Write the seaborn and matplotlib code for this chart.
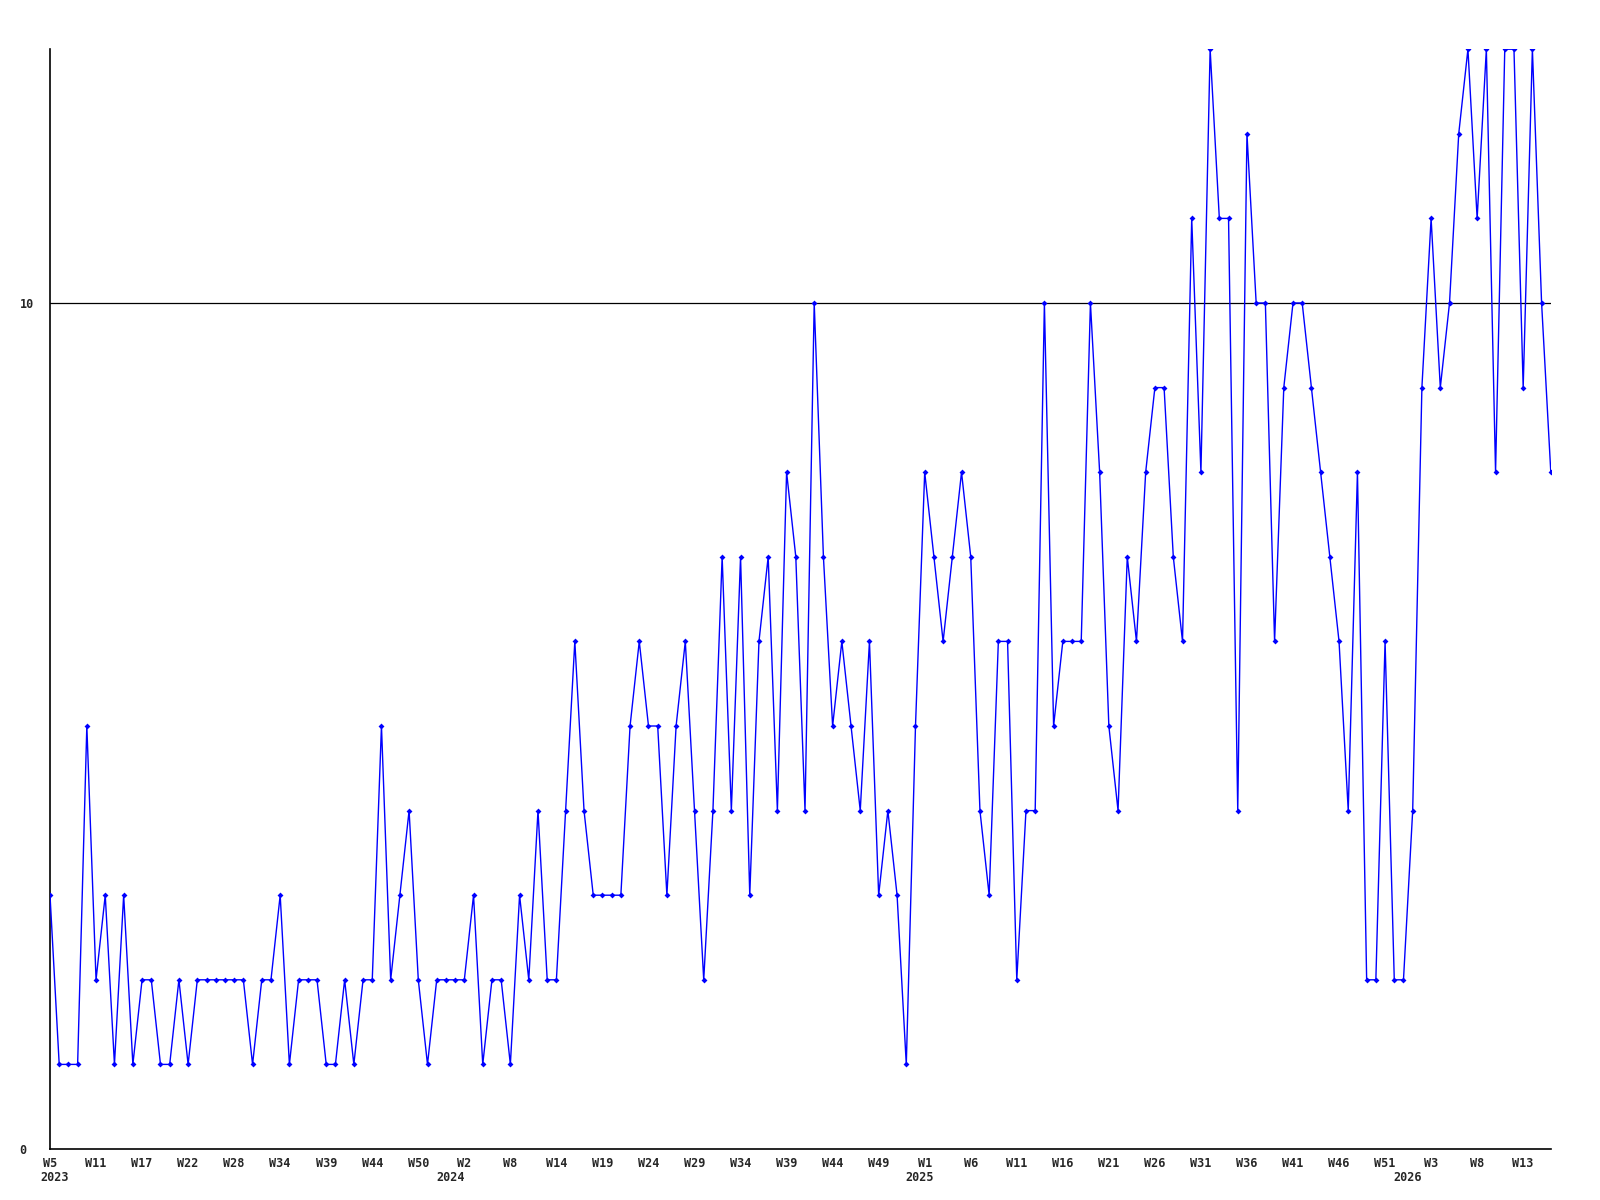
import numpy as np
import pandas as pd
import seaborn as sns
import matplotlib
matplotlib.use('Agg')
import matplotlib.pyplot as plt
import matplotlib.transforms as mtransforms

# weekly counts, one value per data point (W5 2023 onwards)
counts = [
    3, 1, 1, 1, 5, 2, 3, 1, 3, 1,
    2, 2, 1, 1, 2, 1, 2, 2, 2, 2,
    2, 2, 1, 2, 2, 3, 1, 2, 2, 2,
    1, 1, 2, 1, 2, 2, 5, 2, 3, 4,
    2, 1, 2, 2, 2, 2, 3, 1, 2, 2,
    1, 3, 2, 4, 2, 2, 4, 6, 4, 3,
    3, 3, 3, 5, 6, 5, 5, 3, 5, 6,
    4, 2, 4, 7, 4, 7, 3, 6, 7, 4,
    8, 7, 4, 10, 7, 5, 6, 5, 4, 6,
    3, 4, 3, 1, 5, 8, 7, 6, 7, 8,
    7, 4, 3, 6, 6, 2, 4, 4, 10, 5,
    6, 6, 6, 10, 8, 5, 4, 7, 6, 8,
    9, 9, 7, 6, 11, 8, 13, 11, 11, 4,
    12, 10, 10, 6, 9, 10, 10, 9, 8, 7,
    6, 4, 8, 2, 2, 6, 2, 2, 4, 9,
    11, 9, 10, 12, 13, 11, 13, 8, 13, 13,
    9, 13, 10, 8,
]

# a label every 5th point
tick_step = 5
week_labels = ["W5", "W11", "W17", "W22", "W28", "W34", "W39", "W44", "W50",
               "W2", "W8", "W14", "W19", "W24", "W29", "W34", "W39", "W44", "W49",
               "W1", "W6", "W11", "W16", "W21", "W26", "W31", "W36", "W41", "W46",
               "W51", "W3", "W8", "W13"]

years = ["2023", "2024", "2025", "2026"]
year_pos = [0.5, 43.5, 94.5, 147.5]

y_ticks = [0, 10]
y_max = 13

df = pd.DataFrame({'idx': np.arange(len(counts)), 'count': counts})

sns.set_style('white')
plt.rcParams['font.family'] = ['DejaVu Sans Mono']

fig = plt.figure(figsize=(16, 12), dpi=100)
ax = fig.add_axes([0.03125, 0.0425, 0.938, 0.9165])

ax.axhline(10, color='black', linewidth=0.9, zorder=1)
sns.lineplot(data=df, x='idx', y='count', ax=ax, color='#0000ff',
             linewidth=1.0, marker='D', markersize=3, markeredgewidth=0,
             zorder=3)

ax.set_xlim(0, len(counts) - 1)
ax.set_ylim(0, y_max)

ax.set_xticks(np.arange(0, len(week_labels) * tick_step, tick_step))
ax.set_xticklabels(week_labels, fontsize=8.5, fontweight='bold')
ax.set_yticks(y_ticks)
ax.set_yticklabels([str(t) for t in y_ticks], fontsize=8.5, fontweight='bold')
for lbl in ax.get_yticklabels():
    lbl.set_ha('left')
ax.tick_params(axis='x', length=0, pad=6)
ax.tick_params(axis='y', length=0, pad=22)

trans = mtransforms.blended_transform_factory(ax.transData, ax.transAxes)
for yr, pos in zip(years, year_pos):
    ax.text(pos, -0.0255, yr, transform=trans, ha='center', va='center',
            fontsize=8.5, fontweight='bold')

ax.set_xlabel('')
ax.set_ylabel('')
for side in ['top', 'right']:
    ax.spines[side].set_visible(False)
for side in ['left', 'bottom']:
    ax.spines[side].set_color('black')
    ax.spines[side].set_linewidth(1.2)

fig.savefig('out.png', dpi=100)
